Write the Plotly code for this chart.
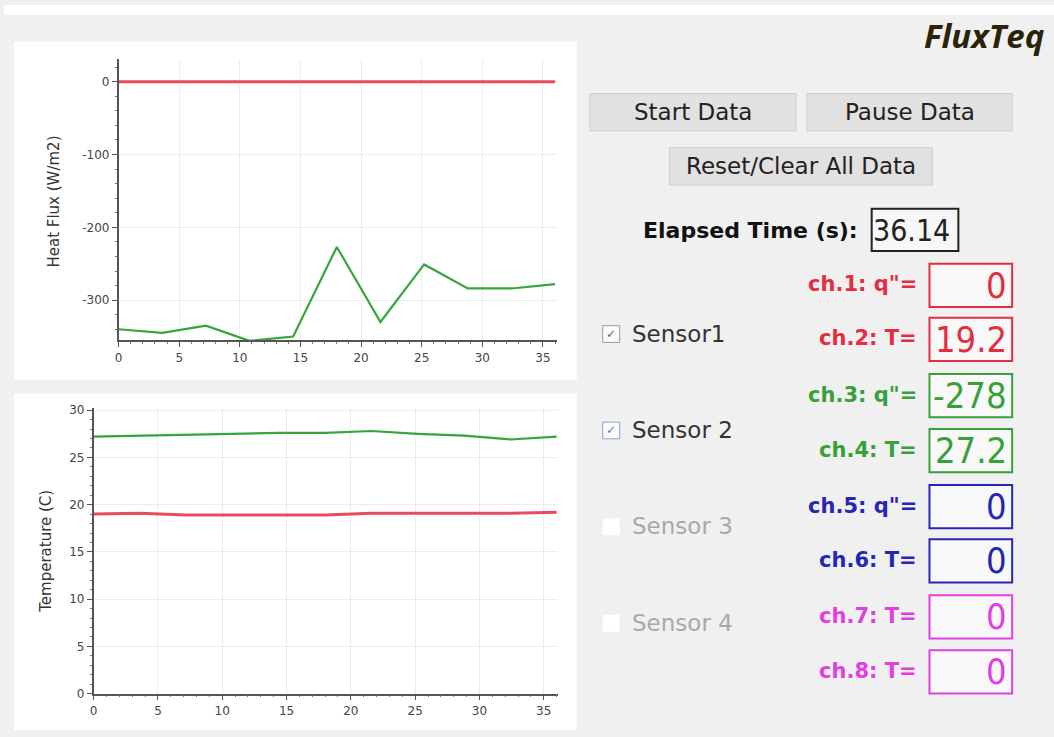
import plotly.graph_objects as go

W, H = 1054, 737

# sample times (s)
time_s = [0, 3.6, 7.2, 10.8, 14.4, 18.0, 21.6, 25.2, 28.8, 32.4, 36.0]

# heat flux (W/m2)
flux_s1 = [0, 0, 0, 0, 0, 0, 0, 0, 0, 0, 0]
flux_s2 = [-340, -345, -335, -356, -350, -227, -330, -251, -284, -284, -278]

# temperature (C)
temp_s1 = [19.0, 19.1, 18.9, 18.9, 18.9, 18.9, 19.1, 19.1, 19.1, 19.1, 19.2]
temp_s2 = [27.2, 27.3, 27.4, 27.5, 27.6, 27.6, 27.8, 27.5, 27.3, 26.9, 27.2]

# tick labels (plain hyphen minus like the original GUI)
flux_ticks = [-300, -200, -100, 0]
flux_tick_text = ["-300", "-200", "-100", "0"]

# right-hand panel readouts
elapsed = "36.14"
channel_labels = ['ch.1: q"=', 'ch.2: T=', 'ch.3: q"=', 'ch.4: T=',
                  'ch.5: q"=', 'ch.6: T=', 'ch.7: T=', 'ch.8: T=']
channel_values = ["0", "19.2", "-278", "27.2", "0", "0", "0", "0"]
channel_colors = ["#e42d3f", "#e42d3f", "#38a03a", "#38a03a",
                  "#2626b4", "#2626b4", "#e040e0", "#e040e0"]
sensor_names = ["Sensor1", "Sensor 2", "Sensor 3", "Sensor 4"]
sensor_checked = [True, True, False, False]

RED = "#ea4a5e"
GREEN = "#36a53c"
UI_FONT = "DejaVu Sans"
DIGIT_FONT = "Liberation Sans Narrow, DejaVu Sans Condensed, Liberation Mono"


def px(x):
    return x / W


def py(y):
    return 1 - y / H


def label(x, y, text, size, color, family=UI_FONT, xanchor="center", **kw):
    return dict(x=px(x), y=py(y), xref="paper", yref="paper", text=text,
                showarrow=False, xanchor=xanchor, yanchor="middle",
                font=dict(family=family, size=size, color=color), **kw)


def box(x0, x1, y0, y1, fill, edge=None, width=1):
    return dict(type="rect", xref="paper", yref="paper",
                x0=px(x0), x1=px(x1), y0=py(y1), y1=py(y0), fillcolor=fill,
                line=dict(color=edge or fill, width=width if edge else 0), layer="below")


fig = go.Figure()

fig.add_trace(go.Scatter(x=time_s, y=flux_s1, mode="lines",
                         line=dict(color=RED, width=3), xaxis="x", yaxis="y"))
fig.add_trace(go.Scatter(x=time_s, y=flux_s2, mode="lines",
                         line=dict(color=GREEN, width=2.2), xaxis="x", yaxis="y"))
fig.add_trace(go.Scatter(x=time_s, y=temp_s1, mode="lines",
                         line=dict(color=RED, width=3), xaxis="x2", yaxis="y2"))
fig.add_trace(go.Scatter(x=time_s, y=temp_s2, mode="lines",
                         line=dict(color=GREEN, width=2.2), xaxis="x2", yaxis="y2"))

axis_style = dict(
    showline=True, linecolor="#555", linewidth=1.5, mirror=False,
    ticks="outside", ticklen=5, tickcolor="#555",
    showgrid=True, gridcolor="#ececec", zeroline=False,
    tickfont=dict(family="DejaVu Sans", size=12, color="#444"),
)
minor_style = dict(ticks="outside", ticklen=2, tickcolor="#777")

shapes = []
annotations = []

# white strip on top and the two plot panels
shapes.append(box(0, W, 0, 10, "white"))
shapes.append(box(10, 575, 37, 381, "white"))
shapes.append(box(10, 575, 395, H, "white"))

# axis titles
annotations.append(label(50, 200, "Heat Flux (W/m2)", 15, "#333", textangle=-90))
annotations.append(label(42, 555, "Temperature (C)", 15, "#333", textangle=-90))

# logo
annotations.append(label(921, 31, "<b><i>FluxTeq</i></b>", 33, "#2b2308",
                         family="Open Sans", xanchor="left"))

# buttons
buttons = [("Start Data", 588, 795, 90, 128),
           ("Pause Data", 806, 1012, 90, 128),
           ("Reset/Clear All Data", 668, 932, 145, 183)]
for text, x0, x1, y0, y1 in buttons:
    shapes.append(box(x0, x1, y0, y1, "#e1e1e1", "#cfcfcf"))
    annotations.append(label((x0 + x1) / 2, (y0 + y1) / 2, text, 23, "#222"))

# elapsed time
annotations.append(label(859, 229, "<b>Elapsed Time (s):</b>", 22, "#111", xanchor="right"))
shapes.append(box(871, 958, 207, 250, "#f7f7f7", "#222", 2))
annotations.append(label(952, 229, elapsed, 30, "#222", family=DIGIT_FONT, xanchor="right"))

# sensor checkboxes
sensor_y = [334, 432, 530, 628]
for name, checked, yc in zip(sensor_names, sensor_checked, sensor_y):
    if checked:
        edge = "#7fa7d6" if name == "Sensor 2" else "#9a9a9a"
        shapes.append(box(601, 618, yc - 8, yc + 9, "#fbfbfb", edge))
        annotations.append(label(609.5, yc + 0.5, "✓", 12,
                                 "#5a7fae" if name == "Sensor 2" else "#666"))
    else:
        shapes.append(box(601, 618, yc - 8, yc + 9, "white"))
    annotations.append(label(628, yc, name, 23, "#333" if checked else "#a8a8a8",
                             xanchor="left"))

# channel readouts
box_tops = [263, 318, 375, 431, 488, 543, 600, 656]
for text, value, color, top in zip(channel_labels, channel_values, channel_colors, box_tops):
    yc = top + 22
    annotations.append(label(918, yc - 1, "<b>" + text + "</b>", 21, color, xanchor="right"))
    shapes.append(box(929, 1012, top, top + 44, "#f8f8f8", color, 2))
    annotations.append(label(1009, yc, value, 36, color, family=DIGIT_FONT, xanchor="right"))

fig.update_layout(
    width=W, height=H,
    margin=dict(l=0, r=0, t=0, b=0),
    paper_bgcolor="#f0f0f0",
    plot_bgcolor="white",
    showlegend=False,
    xaxis=dict(axis_style, domain=[px(115), px(555)], range=[0, 36.15], anchor="y",
               dtick=5, minor=dict(minor_style, dtick=1)),
    yaxis=dict(axis_style, domain=[py(341), py(55)], range=[-355.4, 31.1], anchor="x",
               tickvals=flux_ticks, ticktext=flux_tick_text,
               minor=dict(minor_style, dtick=20)),
    xaxis2=dict(axis_style, domain=[px(90), px(556)], range=[0, 36.1], anchor="y2",
                dtick=5, minor=dict(minor_style, dtick=1)),
    yaxis2=dict(axis_style, domain=[py(700), py(410)], range=[0, 30.2], anchor="x2",
                dtick=5, minor=dict(minor_style, dtick=1)),
    shapes=shapes,
    annotations=annotations,
)

# no page margin, so the figure sits at the window's corner
fig.write_html("out.html", config={"displayModeBar": False},
               post_script="document.body.style.margin='0';")
